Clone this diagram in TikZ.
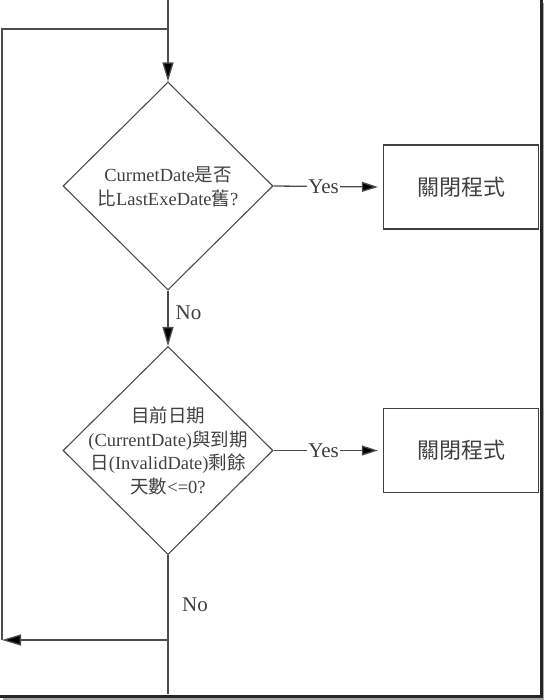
\documentclass[tikz,border=0pt]{standalone}
\usepackage{fontspec}
\setmainfont{Liberation Serif}
\newfontfamily\cjk{Noto Sans CJK TC}
\usetikzlibrary{shapes.geometric,arrows.meta}
\begin{document}
\begin{tikzpicture}[x=1pt,y=-1pt,
  line/.style={draw=black!70,line width=1.3pt},
  arr/.style={line,-{Triangle[length=19pt,width=11pt,fill=black]}},
  arrs/.style={line,-{Triangle[length=16pt,width=10pt,fill=black]}},
  dia/.style={diamond,draw=black!70,line width=1.1pt,inner sep=0pt,minimum width=210pt,minimum height=208pt},
  dtext/.style={align=center,text=black!75,font=\fontsize{18.5}{23.5}\selectfont},
  box/.style={rectangle,draw=black!75,line width=1.3pt,minimum width=155pt,minimum height=84pt,inner sep=0pt,text=black!75,font=\cjk\fontsize{22}{26}\selectfont},
  lbl/.style={text=black!75,font=\fontsize{21}{24}\selectfont,inner sep=1pt,fill=white},
  frame/.style={draw=black!85,line width=3pt}
]
\useasboundingbox (0,0) rectangle (544,700);
\fill[black!35] (543,3) rectangle (544,700);
\fill[black!35] (3,698) rectangle (544,700);
\draw[frame] (541.5,0) -- (541.5,696.5) coordinate (fc);
\draw[frame] (0,696.5) -- (543,696.5);

\coordinate (top) at (168,0);
\coordinate (jn) at (168,29);
\coordinate (lt) at (2,29);
\coordinate (lb) at (2,640);
\coordinate (bj) at (168,640);
\coordinate (bot) at (168,694);

\node[dia] (d1) at (168,186) {};
\node[dtext] (t1) at (168,187) {Curmet\-Date{\cjk 是否}\\{\cjk 比}LastExeDate{\cjk 舊}?};
\node[dia] (d2) at (168,450.5) {};
\node[dtext] (t2) at (168,451) {{\cjk 目前日期}\\(CurrentDate){\cjk 與到期}\\{\cjk 日}(InvalidDate){\cjk 剩餘}\\{\cjk 天數}<=0?};

\node[box] (b1) at (461,187) {關閉程式};
\node[box] (b2) at (461,450.5) {關閉程式};

\draw[arr] (top) -- (d1.north);
\draw[arr] (d1.south) -- node[lbl,right=6pt,fill=none,pos=0.4] (no1) {No} (d2.north);
\draw[arrs] (d1.east) -- node[lbl,pos=0.48] (y1) {Yes} ([xshift=-5pt]b1.west);
\draw[arrs] (d2.east) -- node[lbl,pos=0.48] (y2) {Yes} ([xshift=-5pt]b2.west);
\draw[line] (d2.south) -- (bot);
\draw[arr] (bj) -- (lb);
\node[lbl,fill=none] (no2) at (195,605) {No};
\draw[line] (lb) -- (lt) -- (jn);
\end{tikzpicture}
\end{document}
